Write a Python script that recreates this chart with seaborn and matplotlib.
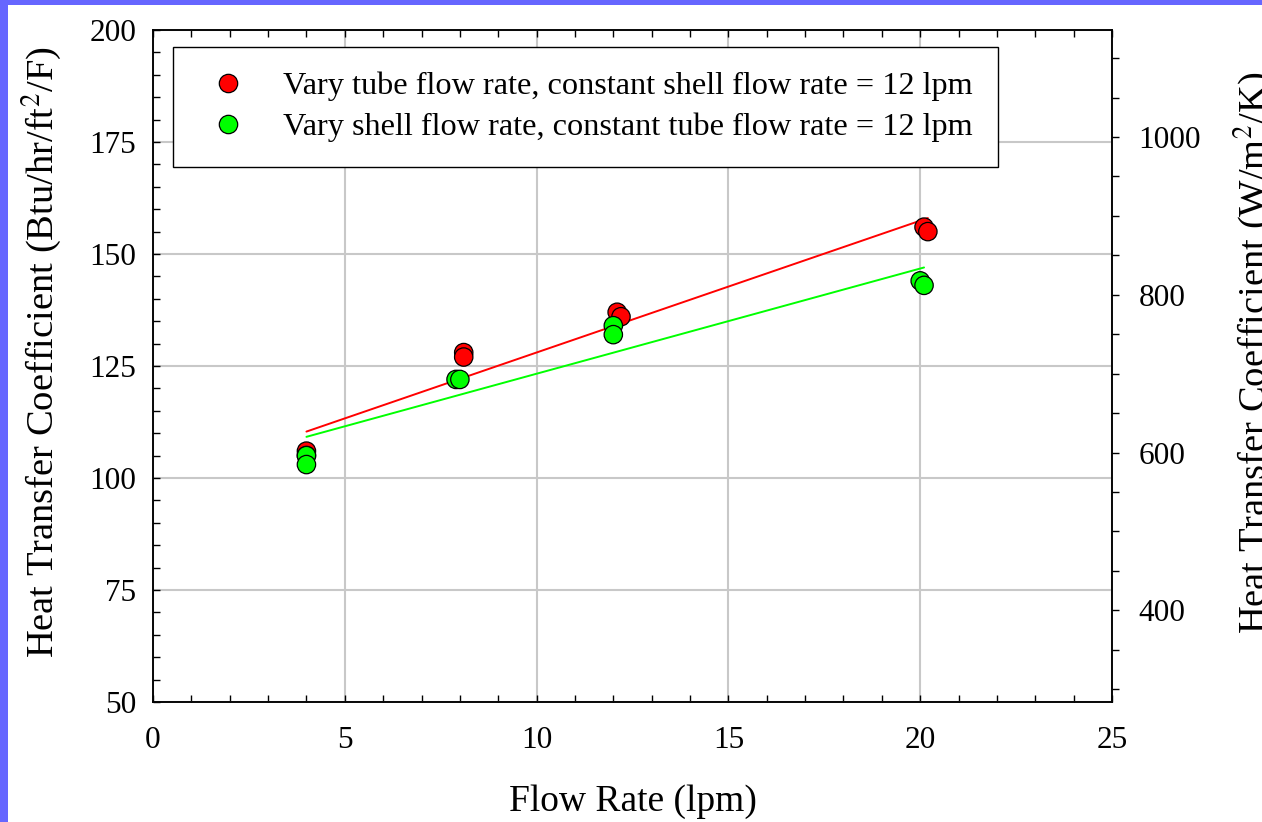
import numpy as np
import pandas as pd
import matplotlib
matplotlib.use("Agg")
import matplotlib.pyplot as plt
import seaborn as sns
from matplotlib.patches import Rectangle
from matplotlib.ticker import MultipleLocator

# data
tube_flow = [4.0, 4.0, 8.1, 8.1, 12.1, 12.2, 20.1, 20.2]
tube_h = [106, 105, 128, 127, 137, 136, 156, 155]
shell_flow = [4.0, 4.0, 7.9, 8.0, 12.0, 12.0, 20.0, 20.1]
shell_h = [105, 103, 122, 122, 134, 132, 144, 143]

labels = ["Vary tube flow rate, constant shell flow rate = 12 lpm",
          "Vary shell flow rate, constant tube flow rate = 12 lpm"]
colors = ["#ff0000", "#00ff00"]
conv = 5.678  # Btu/hr/ft2/F -> W/m2/K

df = pd.concat([
    pd.DataFrame({"flow": tube_flow, "h": tube_h, "series": labels[0]}),
    pd.DataFrame({"flow": shell_flow, "h": shell_h, "series": labels[1]}),
])

sns.set_style("white")
plt.rcParams["font.family"] = ["Liberation Serif", "DejaVu Serif"]
plt.rcParams["mathtext.fontset"] = "stix"
plt.rcParams["text.color"] = "black"
plt.rcParams["axes.labelcolor"] = "black"
plt.rcParams["xtick.color"] = "black"
plt.rcParams["ytick.color"] = "black"

fig = plt.figure(figsize=(12.62, 8.22), dpi=100)
fig.patch.set_facecolor("#6666ff")
bg = Rectangle((8 / 1262, 0), 1, 1 - 5 / 822, transform=fig.transFigure,
               facecolor="white", edgecolor="none", zorder=-10)
fig.patches.append(bg)

ax = fig.add_axes([153 / 1262, 120 / 822, 959 / 1262, 672 / 822])
ax.set_facecolor("white")

for lab, col in zip(labels, colors):
    sub = df[df["series"] == lab]
    sns.regplot(data=sub, x="flow", y="h", scatter=False, ci=None, ax=ax,
                color=col, line_kws={"lw": 1.4, "zorder": 2})

sns.scatterplot(data=df, x="flow", y="h", hue="series", palette=colors, s=175,
                edgecolor="black", linewidth=0.9, ax=ax, zorder=3)

ax.set_xlim(0, 25)
ax.set_ylim(50, 200)
ax.xaxis.set_major_locator(MultipleLocator(5))
ax.xaxis.set_minor_locator(MultipleLocator(1))
ax.yaxis.set_major_locator(MultipleLocator(25))
ax.yaxis.set_minor_locator(MultipleLocator(5))
ax.grid(True, which="major", color="#c8c8c8", lw=1.5)
ax.set_axisbelow(True)
ax.tick_params(which="both", direction="in", length=5, width=1, color="black",
               top=True, bottom=True, left=True, right=False)
ax.tick_params(axis="x", labelsize=22.5, pad=17)
ax.tick_params(axis="y", labelsize=22.5, pad=12)
for sp in ax.spines.values():
    sp.set_color("black")
    sp.set_linewidth(1.1)

ax.set_xlabel("Flow Rate (lpm)", fontsize=27)
ax.set_ylabel(r"Heat Transfer Coefficient (Btu/hr/ft$^2$/F)", fontsize=27.7)
ax.xaxis.set_label_coords(0.5, -0.122)
ax.yaxis.set_label_coords(-0.094, 0.52)

ax2 = ax.twinx()
ax2.set_ylim(50 * conv, 200 * conv)
ax2.yaxis.set_major_locator(MultipleLocator(200))
ax2.yaxis.set_minor_locator(MultipleLocator(50))
ax2.tick_params(which="both", direction="out", length=5, width=1, color="black")
ax2.tick_params(axis="y", labelsize=22.5, pad=14)
ax2.set_ylabel(r"Heat Transfer Coefficient (W/m$^2$/K)", fontsize=27.7)
ax2.yaxis.set_label_coords(1.124, 0.52)
for sp in ax2.spines.values():
    sp.set_color("black")
    sp.set_linewidth(1.1)

handles, _ = ax.get_legend_handles_labels()
leg = ax.legend(handles, labels, loc="upper left", bbox_to_anchor=(0.0209, 0.975),
                borderaxespad=0, fontsize=23.2, frameon=True, fancybox=False,
                edgecolor="black", framealpha=1, borderpad=0.78,
                handlelength=1.86, handletextpad=0.78, labelspacing=0.34)
leg.get_frame().set_linewidth(1.0)

fig.savefig("out.png", dpi=100, facecolor=fig.get_facecolor())
